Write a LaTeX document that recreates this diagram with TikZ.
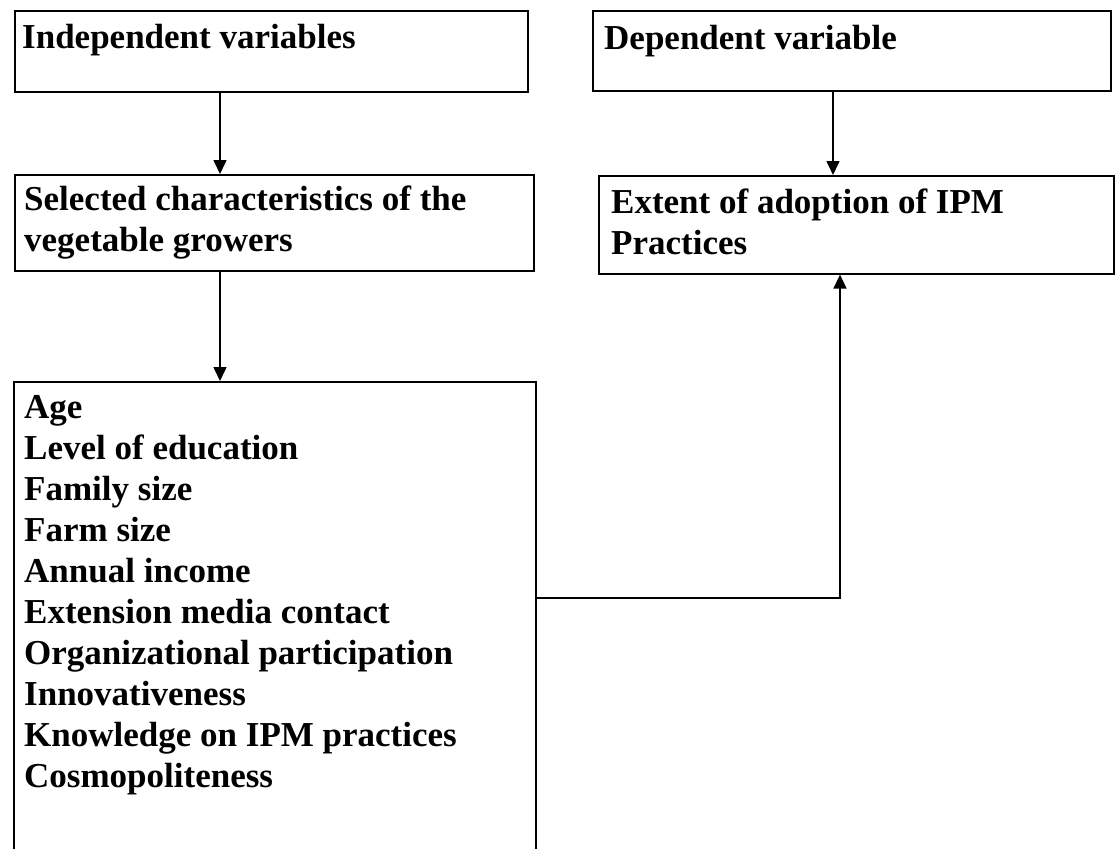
\documentclass[tikz,border=0pt]{standalone}
\usepackage{fontspec}
\setmainfont{Liberation Serif}
\usetikzlibrary{arrows.meta}

\tikzset{
    box/.style={draw, line width=1.6pt, anchor=north west, inner sep=0pt},
    txt/.style={anchor=north west, inner sep=0pt, align=left,
        font=\fontsize{35}{41}\selectfont\bfseries},
    arr/.style={line width=1.6pt, -{Triangle[length=14pt,width=13pt]}}
}

\begin{document}
\begin{tikzpicture}[x=1pt,y=-1pt]
        % Area della figura
        \clip (0,0) rectangle (1117,849);
        \fill[white] (0,0) rectangle (1117,849);

        % Riquadri
        \node[box, minimum width=513pt, minimum height=81pt] (indep) at (14,10) {};
        \node[box, minimum width=518pt, minimum height=80pt] (dep) at (592,10) {};
        \node[box, minimum width=519pt, minimum height=96pt] (sel) at (14,174) {};
        \node[box, minimum width=515pt, minimum height=98pt] (ext) at (598,175) {};
        \node[box, minimum width=522pt, minimum height=500pt] (list) at (13,381) {};

        % Testi
        \node[txt] (indeptxt) at (22,24) {Independent variables};
        \node[txt] (deptxt) at (604,25) {Dependent variable};
        \node[txt] (seltxt) at (24,186) {Selected characteristics of the\\vegetable growers};
        \node[txt] (exttxt) at (611,189) {Extent of adoption of IPM\\Practices};
        \node[txt] (listtxt) at (24,395) {Age\\Level of education\\Family size\\Farm size\\Annual income\\Extension media contact\\Organizational participation\\Innovativeness\\Knowledge on IPM practices\\Cosmopoliteness};

        % Frecce
        \draw[arr] ([xshift=206pt]indep.south west) -- ([xshift=206pt]indep.south west |- sel.north); % sinistra
        \draw[arr] ([xshift=241pt]dep.south west) -- ([xshift=241pt]dep.south west |- ext.north); % destra
        \draw[arr] ([xshift=206pt]sel.south west) -- ([xshift=206pt]sel.south west |- list.north);
        \coordinate (turn) at (840,598);
        \draw[arr] (list.east |- turn) -- (turn) -- (turn |- ext.south); % verso la variabile dipendente

\end{tikzpicture}
\end{document}
